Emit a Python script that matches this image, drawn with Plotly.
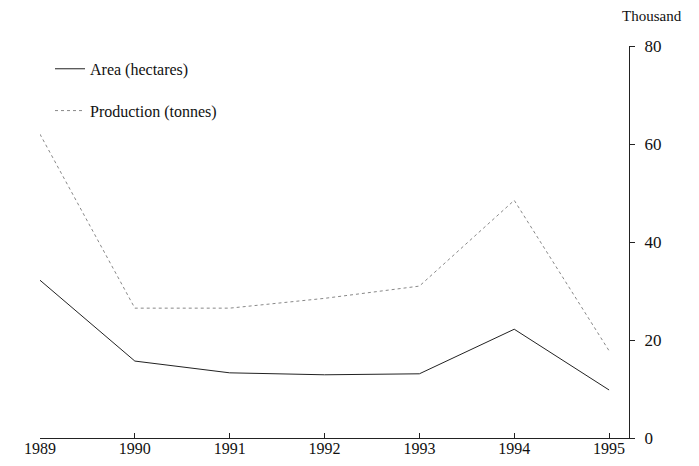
import plotly.graph_objects as go

years = [1989, 1990, 1991, 1992, 1993, 1994, 1995]
area_thousand = [32.2, 15.7, 13.3, 12.9, 13.1, 22.2, 9.8]
production_thousand = [62.0, 26.5, 26.5, 28.5, 31.0, 48.5, 17.8]
y_ticks = [0, 20, 40, 60, 80]

serif = "Liberation Serif"

fig = go.Figure()
fig.add_trace(go.Scatter(
    x=years, y=area_thousand, mode="lines", name="Area (hectares)",
    line=dict(color="#222222", width=1), legendgroup="a"))
fig.add_trace(go.Scatter(
    x=years, y=production_thousand, mode="lines", name="Production (tonnes)",
    line=dict(color="#888888", width=1, dash="dot"), legendgroup="p"))

fig.update_layout(
    width=699, height=466,
    margin=dict(l=32, r=78, t=38, b=36),
    paper_bgcolor="white", plot_bgcolor="white",
    font=dict(family=serif, size=15, color="#111111"),
    showlegend=True,
    legend=dict(x=0.017, y=0.985, xanchor="left", yanchor="top",
                bgcolor="rgba(0,0,0,0)", tracegroupgap=18,
                font=dict(family=serif, size=16)),
    xaxis=dict(range=[1989, 1995.21], tickvals=years, ticktext=[str(y) for y in years],
               showgrid=False, zeroline=False, showline=True, linecolor="#222222",
               linewidth=1, ticks="inside", ticklen=5, tickcolor="#222222",
               ticklabelstandoff=-4,
               tickfont=dict(family=serif, size=16)),
    yaxis=dict(range=[0, 80], side="right", tickvals=y_ticks,
               showgrid=False, zeroline=False, showline=True, linecolor="#222222",
               linewidth=1, ticks="outside", ticklen=5, tickcolor="#222222",
               ticklabelstandoff=6,
               tickfont=dict(family=serif, size=17)),
    annotations=[dict(text="Thousand", xref="paper", yref="paper", x=1.0, y=1.0,
                      xanchor="left", yanchor="bottom", showarrow=False,
                      xshift=-9, yshift=20, font=dict(family=serif, size=15))],
)

fig.write_html("out.html")
